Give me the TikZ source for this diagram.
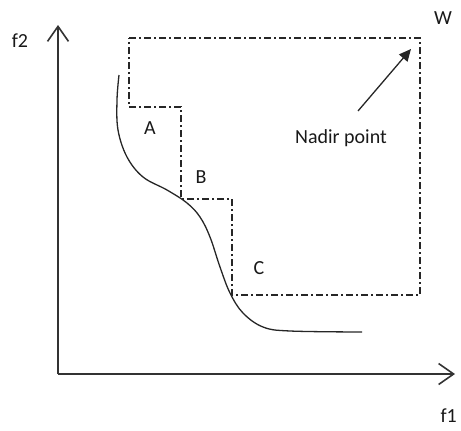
\documentclass[tikz,border=0pt]{standalone}
\usepackage{fontspec}
\setmainfont{Carlito}
\usetikzlibrary{arrows.meta}

\tikzset{
  axis/.style={line width=1.6pt,black!80,-{Straight Barb[length=15pt,width=21pt,line width=1.6pt]}},
  boxline/.style={line width=1.3pt,black!85,dash pattern=on 7pt off 3pt on 2pt off 3pt},
  front/.style={line width=1.3pt,black!85},
  lbl/.style={font=\fontsize{20}{24}\selectfont,inner sep=0pt,text=black!90}
}

\begin{document}
\begin{tikzpicture}[x=1pt,y=-1pt]
\useasboundingbox (0,0) rectangle (461,431);
% axes
\coordinate (O) at (58,374);
\coordinate (ytip) at (58,25);
\coordinate (xtip) at (455,374);
\draw[axis] (O) -- (ytip);
\draw[axis] (O) -- (xtip);
\node[lbl] (f2) at (20,41) {f2};
\node[lbl,anchor=east] (f1) at (457,416) {f1};
% nadir box with steps
\coordinate (tl) at (129,38);
\coordinate (W) at (420,38);
\coordinate (br) at (420,295);
\coordinate (pA) at (181,107);
\coordinate (pB) at (232,199);
\coordinate (pC) at (232,295);
\draw[boxline] (tl) -- (W) -- (br) -- (pC) -- (pB) -- (181,199) -- (pA) -- (129,107) -- cycle;
\node[lbl] (A) at (150,128) {A};
\node[lbl] (B) at (201,177) {B};
\node[lbl] (C) at (259,268) {C};
\node[lbl] (Wl) at (443,18) {W};
% pareto front
\draw[front] plot[smooth,tension=0.6] coordinates {(119,75) (117,100) (118,130) (127,157) (143,177)
  (167,190) (187,203) (200,217) (210,237) (220,267) (230,293) (243,313) (263,327) (290,331) (362,332)};
% nadir point
\node[lbl] (nadir) at (341,138) {Nadir point};
\coordinate (ntail) at (358,111);
\coordinate (nhead) at (411,49);
\draw[line width=1.3pt,black!85,-{Triangle[length=12pt,width=11pt]}] (ntail) -- (nhead);
\end{tikzpicture}
\end{document}
